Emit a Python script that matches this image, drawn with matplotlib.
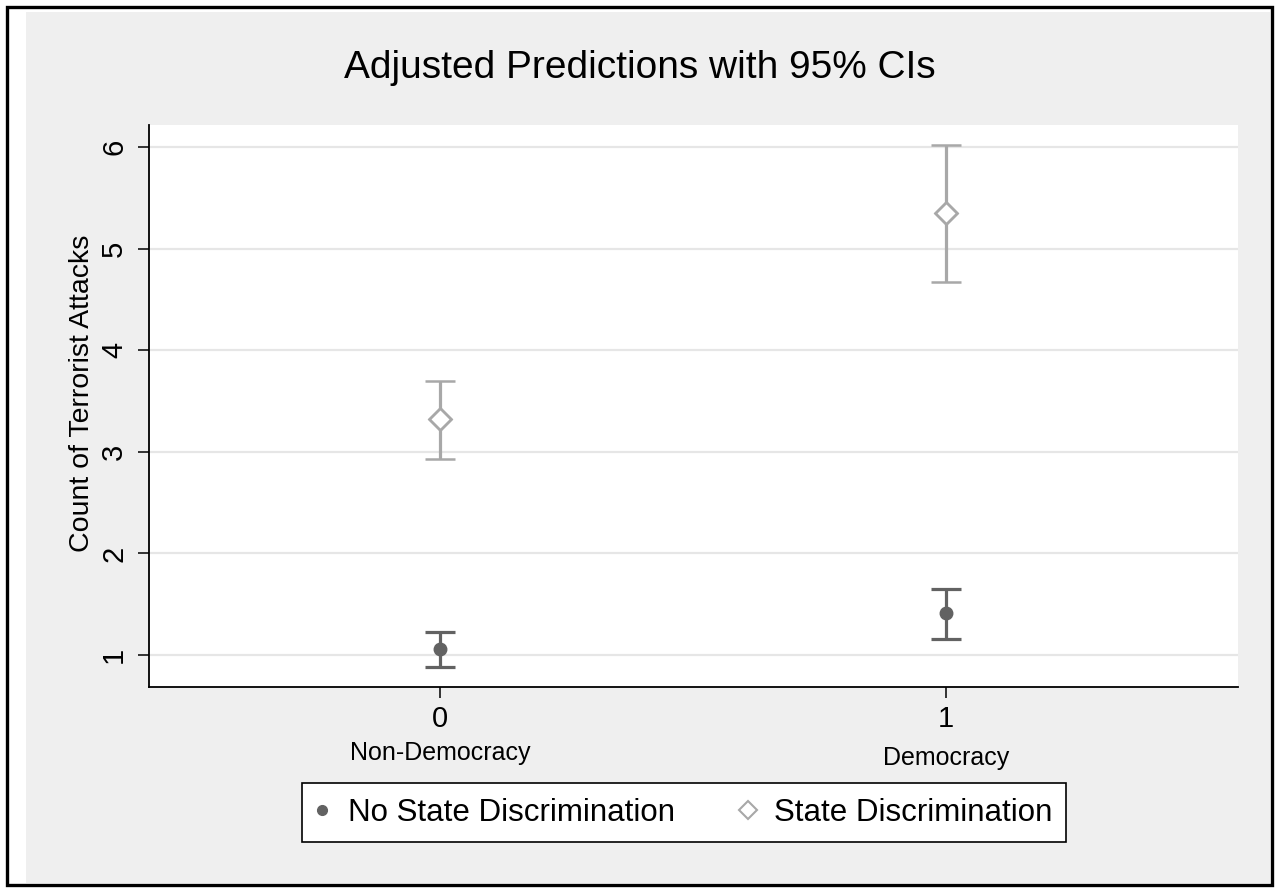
import matplotlib
matplotlib.use("Agg")
import matplotlib.pyplot as plt
from matplotlib.lines import Line2D
from matplotlib.patches import Rectangle

plt.rcParams['font.family'] = ['Liberation Sans', 'DejaVu Sans']

# ---- data ----
x_vals = [0, 1]
x_ticklabels = ["0", "1"]
x_sublabels = ["Non-Democracy", "Democracy"]
y_ticks = [1, 2, 3, 4, 5, 6]

series_names = ["No State Discrimination", "State Discrimination"]
no_disc_mean = [1.06, 1.41]
no_disc_lo = [0.88, 1.16]
no_disc_hi = [1.23, 1.65]
disc_mean = [3.32, 5.35]
disc_lo = [2.93, 4.67]
disc_hi = [3.70, 6.02]

title = "Adjusted Predictions with 95% CIs"
ylabel = "Count of Terrorist Attacks"

W, H = 1275, 888
fig = plt.figure(figsize=(W / 100, H / 100), dpi=100)
fig.patch.set_facecolor("white")

def fx(px):
    return px / W

def fy(py):
    return 1 - py / H

# gray background region and black outer border
fig.add_artist(Rectangle((fx(26), fy(883)), fx(1270) - fx(26), fy(12) - fy(883),
                         transform=fig.transFigure, facecolor="#efefef",
                         edgecolor="none", zorder=0))
fig.add_artist(Rectangle((fx(7), fy(885)), fx(1272) - fx(7), fy(7) - fy(885),
                         transform=fig.transFigure, facecolor="none",
                         edgecolor="black", linewidth=2.4, zorder=10))

ax = fig.add_axes([fx(149), fy(687), fx(1238) - fx(149), fy(125) - fy(687)])
ax.set_facecolor("white")
ax.set_xlim(-0.575, 1.577)
ax.set_ylim(0.685, 6.217)

for s in ["top", "right"]:
    ax.spines[s].set_visible(False)
for s in ["left", "bottom"]:
    ax.spines[s].set_linewidth(1.3)
    ax.spines[s].set_color("black")

ax.set_yticks(y_ticks)
ax.set_yticklabels([str(v) for v in y_ticks], rotation=90, va="center", fontsize=21)
ax.set_xticks(x_vals)
ax.set_xticklabels(x_ticklabels, fontsize=21)
ax.tick_params(axis="y", length=8, width=1.1, pad=7)
ax.tick_params(axis="x", length=8, width=1.1, pad=5)
ax.yaxis.grid(True, color="#e6e6e6", linewidth=1.6, zorder=0)
ax.set_axisbelow(True)

ax.set_ylabel(ylabel, fontsize=20.5)
ax.yaxis.set_label_coords(-0.0496, 0.523)

dark = "#626262"
light = "#a8a8a8"

err_lo1 = [m - l for m, l in zip(no_disc_mean, no_disc_lo)]
err_hi1 = [h - m for m, h in zip(no_disc_mean, no_disc_hi)]
err_lo2 = [m - l for m, l in zip(disc_mean, disc_lo)]
err_hi2 = [h - m for m, h in zip(disc_mean, disc_hi)]

ax.errorbar(x_vals, no_disc_mean, yerr=[err_lo1, err_hi1], fmt="o", color=dark,
            ms=9, ecolor=dark, elinewidth=2.3, capsize=11, capthick=2.3, zorder=3)
ax.errorbar(x_vals, disc_mean, yerr=[err_lo2, err_hi2], fmt="D", color=light,
            mfc="white", mec=light, mew=1.8, ms=11, ecolor=light,
            elinewidth=2.3, capsize=11, capthick=2.3, zorder=3)
ax.plot(x_vals, disc_mean, linestyle="none", marker="D", ms=11, mfc="none",
        mec=light, mew=1.8, zorder=4)

# sub-labels under x ticks
trans = matplotlib.transforms.blended_transform_factory(ax.transData, fig.transFigure)
sub_y = [fy(753), fy(758)]
for xv, lab, yy in zip(x_vals, x_sublabels, sub_y):
    ax.text(xv, yy, lab, transform=trans, ha="center", va="center", fontsize=18)

fig.text(fx(640), fy(68), title, ha="center", va="center", fontsize=28)

handles = [
    Line2D([], [], linestyle="none", marker="o", ms=7, color=dark),
    Line2D([], [], linestyle="none", marker="D", ms=9, mfc="white", mec=light, mew=1.5),
]
leg = fig.legend(handles, series_names, loc="center left",
                 bbox_to_anchor=(fx(302), fy(812.5)), ncol=2, fontsize=22.5,
                 frameon=True, fancybox=False, edgecolor="black", framealpha=1,
                 handlelength=0.4, handletextpad=0.62, columnspacing=2.14,
                 borderpad=0.45, borderaxespad=0)
leg.get_frame().set_linewidth(1.2)

fig.savefig("out.png", dpi=100)
